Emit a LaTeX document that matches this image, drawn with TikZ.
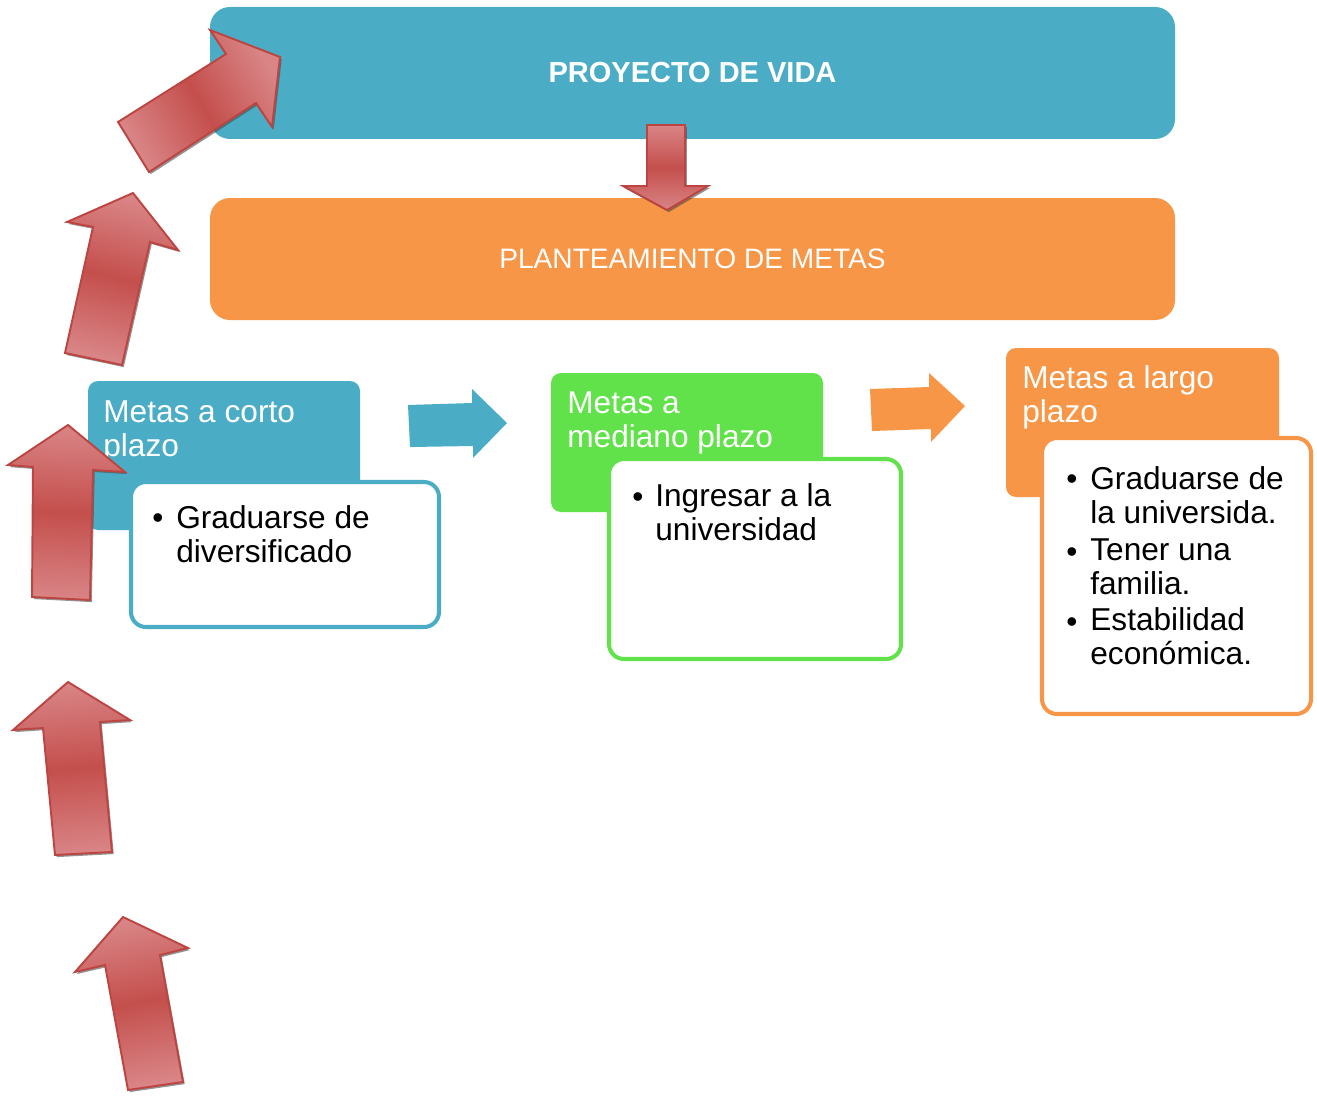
\documentclass[tikz,border=0pt]{standalone}
\usepackage{fontspec}
\setmainfont{Liberation Sans}
\usetikzlibrary{shapes,arrows,fit,shadows}
\definecolor{azul}{HTML}{4BACC6}
\definecolor{naranja}{HTML}{F79646}
\definecolor{verde}{HTML}{62E24A}
\definecolor{rojo}{HTML}{C44F4C}
\definecolor{rojoclaro}{HTML}{D98486}
\definecolor{borderojo}{HTML}{BD4541}

\begin{document}
\begin{tikzpicture}[x=0.02cm,y=-0.02cm,
        caja/.style={rounded corners=0.4cm,inner sep=0pt},
        cabeza/.style={rounded corners=0.2cm,inner sep=0pt},
        detalle/.style={rounded corners=0.3cm,inner sep=0pt,line width=2.3pt,fill=white},
        texto/.style={font=\fontsize{18}{19}\selectfont,align=left,inner sep=0pt,anchor=base west},
        titulo/.style={texto,text=white},
        flecha/.style={draw=borderojo,line width=1.1pt,top color=rojoclaro,bottom color=rojoclaro,middle color=rojo,
                drop shadow={shadow xshift=1pt,shadow yshift=-1.2pt,opacity=.6,fill=black!70}}]
        \useasboundingbox (0,0) rectangle (1317,1098);
        % cajas grandes
        \node[caja,fill=azul,fit={(210,7) (1175,139)}] (proyecto) {};
        \node[text=white,font=\fontsize{16.5}{18}\selectfont\bfseries,inner sep=0pt] (proyectotxt) at (proyecto) {PROYECTO DE VIDA};
        \node[caja,fill=naranja,fit={(210,198) (1175,320)}] (metas) {};
        \node[text=white,font=\fontsize{16}{18}\selectfont,inner sep=0pt] (metastxt) at (metas) {PLANTEAMIENTO DE METAS};
        % corto plazo
        \node[cabeza,fill=azul,fit={(88,381) (360,530)}] (corto) {};
        \node[titulo] (cortotxt) at (103,456) {Metas a corto\\plazo};
        \node[detalle,draw=azul,fit={(131,482) (439,627)}] (cortobox) {};
        \node[texto] (vinetacorto) at (152,528) {\textbullet};
        \node[texto] (cortoitem) at (176,562) {Graduarse de\\diversificado};
        % mediano plazo
        \node[cabeza,fill=verde,fit={(551,373) (823,512)}] (mediano) {};
        \node[titulo] (medianotxt) at (567,447) {Metas a\\mediano plazo};
        \node[detalle,draw=verde,fit={(609,459) (901,659)}] (medianobox) {};
        \node[texto] (vinetamediano) at (632,507) {\textbullet};
        \node[texto] (medianoitem) at (655,540) {Ingresar a la\\universidad};
        % largo plazo
        \node[cabeza,fill=naranja,fit={(1006,348) (1279,497)}] (largo) {};
        \node[titulo] (largotxt) at (1022,422) {Metas a largo\\plazo};
        \node[detalle,draw=naranja,fit={(1042,438) (1311,714)}] (largobox) {};
        \foreach \yb/\yt/\txt [count=\i] in {489/523/{Graduarse de\\la universida.},562/594/{Tener una\\familia.},632/664/{Estabilidad\\económica.}}
        {
        \node[texto] (vinetalargo\i) at (1066,\yb) {\textbullet};
        \node[texto] (largoitem\i) at (1090,\yt) {\txt};
        }
        % flechas entre plazos
        \fill[azul] (408,405) -- (472,403) -- (472,389) -- (507,423) -- (473,458) -- (473,446) -- (410,447) -- cycle;
        \fill[naranja] (870,389) -- (929,387) -- (929,373) -- (965,406) -- (931,442) -- (931,429) -- (872,431) -- cycle;
        % flecha hacia abajo
        \path[flecha] (647,125) -- (685,125) -- (685,186) -- (708,186) -- (667,210) -- (623,186) -- (647,186) -- cycle;
        % flechas rojas de la izquierda
        \path[flecha,shading angle=-59] (149,172) -- (118,122) -- (226,54) -- (210,30) -- (280,57) -- (272,127) -- (256,103) -- cycle;
        \path[flecha,shading angle=-13] (65,353) -- (93,227) -- (67,222) -- (133,193) -- (178,250) -- (150,242) -- (122,365) -- cycle;
        \path[flecha,shading angle=-2] (32,597) -- (33,467) -- (8,465) -- (68,425) -- (125,472) -- (93,470) -- (90,600) -- cycle;
        \path[flecha,shading angle=5] (55,855) -- (43,728) -- (13,730) -- (68,682) -- (130,720) -- (100,722) -- (112,852) -- cycle;
        \path[flecha,shading angle=11] (128,1090) -- (105,965) -- (75,972) -- (123,917) -- (188,948) -- (160,955) -- (183,1082) -- cycle;
\end{tikzpicture}
\end{document}
